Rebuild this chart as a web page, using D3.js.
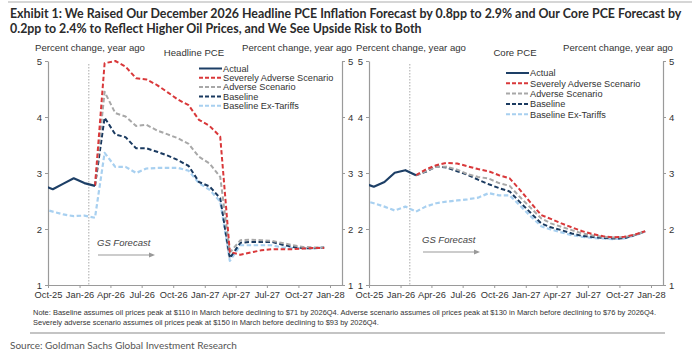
<!DOCTYPE html>
<html><head><meta charset="utf-8">
<script src="https://cdn.jsdelivr.net/npm/d3@7"></script>
<style>body{margin:0;background:#fff} svg{display:block}</style>
</head><body><svg id="c" width="700" height="357"></svg>
<script>
// ---------- DATA ----------
const months = ["2025-09","2025-10","2025-11","2025-12","2026-01","2026-02","2026-03","2026-04","2026-05","2026-06","2026-07","2026-08","2026-09","2026-10","2026-11","2026-12","2027-01","2027-02","2027-03","2027-04","2027-05","2027-06","2027-07","2027-08","2027-09","2027-10","2027-11","2027-12"];
const actualMonths = months.slice(0, 6);      // Sep-25 .. Feb-26
const forecastMonths = months.slice(5);       // Feb-26 .. Dec-27
const tickLabels = ["Oct-25","Jan-26","Apr-26","Jul-26","Oct-26","Jan-27","Apr-27","Jul-27","Oct-27","Jan-28"];
const yTicks = [1, 2, 3, 4, 5];
const seriesNames = ["Actual","Severely Adverse Scenario","Adverse Scenario","Baseline","Baseline Ex-Tariffs"];

// Headline PCE
const headActual = [2.78, 2.71, 2.81, 2.905, 2.82, 2.77];
const headSevere = [2.77, 4.96, 5.00, 4.90, 4.69, 4.67, 4.57, 4.44, 4.31, 4.21, 3.95, 3.84, 3.65, 1.59, 1.54, 1.58, 1.62, 1.64, 1.64, 1.64, 1.65, 1.66, 1.66];
const headAdverse = [2.77, 4.45, 4.07, 4.01, 3.84, 3.86, 3.76, 3.69, 3.62, 3.52, 3.29, 3.17, 2.93, 1.58, 1.80, 1.81, 1.80, 1.79, 1.75, 1.71, 1.68, 1.67, 1.67];
const headBase = [2.77, 3.99, 3.69, 3.64, 3.44, 3.44, 3.38, 3.31, 3.23, 3.125, 2.84, 2.76, 2.55, 1.48, 1.755, 1.77, 1.77, 1.77, 1.72, 1.68, 1.66, 1.655, 1.67];
const headExTariffs = [2.36, 2.31, 2.26, 2.23, 2.24, 2.20, 3.36, 3.11, 3.11, 3.00, 3.08, 3.09, 3.09, 3.09, 3.04, 2.82, 2.70, 2.49, 1.43, 1.71, 1.71, 1.71, 1.71, 1.67, 1.66, 1.655, 1.66, 1.67];

// Core PCE
const coreActual = [2.82, 2.755, 2.84, 3.005, 3.05, 2.96];
const coreSevere = [2.96, 3.06, 3.14, 3.18, 3.17, 3.12, 3.07, 3.03, 2.96, 2.905, 2.70, 2.47, 2.25, 2.18, 2.10, 2.03, 1.96, 1.91, 1.87, 1.85, 1.86, 1.90, 1.96];
const coreAdverse = [2.96, 3.03, 3.11, 3.11, 3.06, 2.98, 2.93, 2.90, 2.82, 2.77, 2.57, 2.38, 2.19, 2.10, 2.04, 1.98, 1.92, 1.885, 1.86, 1.85, 1.855, 1.895, 1.96];
const coreBase = [2.96, 3.02, 3.12, 3.10, 3.03, 2.97, 2.88, 2.80, 2.73, 2.67, 2.48, 2.29, 2.10, 2.03, 1.98, 1.92, 1.875, 1.855, 1.84, 1.83, 1.835, 1.89, 1.96];
const coreExTariffs = [2.51, 2.46, 2.40, 2.33, 2.40, 2.31, 2.40, 2.46, 2.49, 2.51, 2.53, 2.56, 2.64, 2.60, 2.60, 2.42, 2.23, 2.05, 1.99, 1.94, 1.89, 1.86, 1.84, 1.83, 1.82, 1.83, 1.885, 1.955];

const forecastStart = "2026-01-28";

// ---------- STYLE ----------
const colors = {actual:"#1d3f66", severe:"#d9383a", adverse:"#a8a8a8", base:"#1a3a60", ex:"#a8d0f0"};
const axisColor = "#9a9a9a", textColor = "#333";
const sans = "'Liberation Sans', Arial, sans-serif";
const narrow = "'Liberation Sans Narrow', 'Liberation Sans', Arial, sans-serif";

const svg = d3.select("#c");
const parseM = d3.timeParse("%Y-%m");
const mid = s => { const d = parseM(s); return new Date(d.getFullYear(), d.getMonth(), 15); };
const parseD = d3.timeParse("%Y-%m-%d");
const parseTick = d3.timeParse("%b-%y");

function fitText(sel, width) {
  const fs = parseFloat(sel.attr("font-size"));
  const w = sel.node().getComputedTextLength();
  sel.attr("font-size", fs * width / w);
  return fs * width / w;
}

// top rule
svg.append("line").attr("x1", 8).attr("x2", 692).attr("y1", 2).attr("y2", 2).attr("stroke", "#c8c8c8").attr("stroke-width", 1.5);

// title
const tFont = "Lato, 'Open Sans', sans-serif";
const t1 = svg.append("text").attr("x", 10).attr("y", 18).attr("font-family", tFont).attr("font-weight", "bold")
  .attr("font-size", 12).attr("fill", "#2b2b2b")
  .text("Exhibit 1: We Raised Our December 2026 Headline PCE Inflation Forecast by 0.8pp to 2.9% and Our Core PCE Forecast by");
const tfs = fitText(t1, 672);
svg.append("text").attr("x", 10).attr("y", 33).attr("font-family", tFont).attr("font-weight", "bold")
  .attr("font-size", tfs).attr("fill", "#2b2b2b")
  .text("0.2pp to 2.4% to Reflect Higher Oil Prices, and We See Upside Risk to Both");

function panel(cfg) {
  const x = d3.scaleTime().domain([new Date(2025, 9, 1), new Date(2028, 1, 5)]).range([cfg.x0, cfg.x1]);
  const y = d3.scaleLinear().domain([1, 5]).range([285, 61]);
  const g = svg.append("g");

  const clipId = "clip" + cfg.x0;
  svg.append("defs").append("clipPath").attr("id", clipId).append("rect")
    .attr("x", cfg.x0).attr("y", 40).attr("width", cfg.x1 - cfg.x0).attr("height", 250);

  // axes
  const styleAxis = a => {
    a.selectAll(".domain").attr("stroke", axisColor).attr("stroke-width", 1.2);
    a.selectAll(".tick line").attr("stroke", axisColor);
    a.selectAll("text").attr("fill", textColor).attr("font-family", sans).attr("font-size", 9.5);
  };
  const yl = g.append("g").attr("transform", `translate(${cfg.x0},0)`)
    .call(d3.axisLeft(y).tickValues(yTicks).tickFormat(d3.format("d")).tickSize(3).tickSizeOuter(0).tickPadding(3));
  styleAxis(yl);
  const yr = g.append("g").attr("transform", `translate(${cfg.x1},0)`)
    .call(d3.axisRight(y).tickValues(yTicks).tickFormat(d3.format("d")).tickSize(3).tickSizeOuter(0).tickPadding(3));
  styleAxis(yr);
  const xa = g.append("g").attr("transform", "translate(0,285)")
    .call(d3.axisBottom(x).tickValues(tickLabels.map(parseTick)).tickFormat(d3.timeFormat("%b-%y")).tickSize(3).tickSizeOuter(0).tickPadding(3));
  styleAxis(xa);
  xa.selectAll("text").attr("font-family", narrow).attr("font-size", 9.3);

  // header labels
  const hdr = (tx, cx, yy) => g.append("text").attr("x", cx).attr("y", yy).attr("text-anchor", "middle")
    .attr("font-family", narrow).attr("font-size", 9.6).attr("fill", textColor).text(tx);
  hdr("Percent change, year ago", cfg.x0 + 42, 51);
  hdr("Percent change, year ago", cfg.x1 - 45, 51);
  hdr(cfg.title, cfg.titleX, 56);

  // forecast divider
  g.append("line").attr("x1", x(parseD(forecastStart))).attr("x2", x(parseD(forecastStart)))
    .attr("y1", 64).attr("y2", 285).attr("stroke", "#aaa").attr("stroke-width", 1).attr("stroke-dasharray", "1.5,1.5");

  // GS Forecast annotation
  g.append("text").attr("x", cfg.gsX).attr("y", cfg.gsY).attr("font-family", sans).attr("font-style", "italic")
    .attr("font-size", 9.5).attr("fill", "#444").text("GS Forecast");
  g.append("line").attr("x1", cfg.gsX + 1).attr("x2", cfg.gsX + 54).attr("y1", cfg.gsY + 9).attr("y2", cfg.gsY + 9)
    .attr("stroke", "#999").attr("stroke-width", 1.2);
  g.append("path").attr("d", `M${cfg.gsX + 58},${cfg.gsY + 9} l-6,-2.5 l0,5 z`).attr("fill", "#999");

  // series
  const line = d3.line().x(d => x(d[0])).y(d => y(d[1]));
  const lines = g.append("g").attr("clip-path", `url(#${clipId})`);
  const dash = "4.5,2.5";
  const add = (ms, vals, color, dashed, w) => lines.append("path")
    .datum(ms.map((m, i) => [mid(m), vals[i]]))
    .attr("d", line).attr("fill", "none").attr("stroke", color).attr("stroke-width", w || 2)
    .attr("stroke-dasharray", dashed ? dash : null).attr("stroke-linejoin", "round");
  add(months, cfg.ex, colors.ex, true, 2.2);
  add(forecastMonths, cfg.base, colors.base, true);
  add(forecastMonths, cfg.adverse, colors.adverse, true);
  add(forecastMonths, cfg.severe, colors.severe, true);
  add(actualMonths, cfg.actual, colors.actual, false, 2.2);

  // legend
  const lg = g.append("g");
  const lc = [[colors.actual, false], [colors.severe, true], [colors.adverse, true], [colors.base, true], [colors.ex, true]];
  seriesNames.forEach((n, i) => {
    const yy = cfg.legY + i * cfg.legStep;
    lg.append("line").attr("x1", cfg.legX).attr("x2", cfg.legX + 23).attr("y1", yy).attr("y2", yy)
      .attr("stroke", lc[i][0]).attr("stroke-width", 2).attr("stroke-dasharray", lc[i][1] ? "4,2" : null);
    lg.append("text").attr("x", cfg.legX + 24).attr("y", yy + 3.3).attr("font-family", sans).attr("font-size", 9.2)
      .attr("fill", textColor).text(n);
  });
}

panel({x0: 48, x1: 342, title: "Headline PCE", titleX: 194, gsX: 97, gsY: 246, legX: 199, legY: 68.5, legStep: 9.3,
  actual: headActual, severe: headSevere, adverse: headAdverse, base: headBase, ex: headExTariffs});
panel({x0: 369, x1: 663, title: "Core PCE", titleX: 515, gsX: 422, gsY: 243, legX: 506, legY: 73, legStep: 10.3,
  actual: coreActual, severe: coreSevere, adverse: coreAdverse, base: coreBase, ex: coreExTariffs});

// note
const nf = "'Liberation Sans', Arial, sans-serif";
const n1 = svg.append("text").attr("x", 33).attr("y", 315).attr("font-family", nf).attr("font-size", 7).attr("fill", "#333")
  .text("Note: Baseline assumes oil prices peak at $110 in March before declining to $71 by 2026Q4. Adverse scenario assumes oil prices peak at $130 in March before declining to $76 by 2026Q4.");
const nfs = fitText(n1, 624);
svg.append("text").attr("x", 33).attr("y", 325).attr("font-family", nf).attr("font-size", nfs).attr("fill", "#333")
  .text("Severely adverse scenario assumes oil prices peak at $150 in March before declining to $93 by 2026Q4.");
svg.append("line").attr("x1", 30).attr("x2", 665).attr("y1", 333).attr("y2", 333).attr("stroke", "#b0b0b0").attr("stroke-width", 1.5);
const s1 = svg.append("text").attr("x", 10).attr("y", 349).attr("font-family", tFont).attr("font-size", 9).attr("fill", "#555")
  .text("Source: Goldman Sachs Global Investment Research");
fitText(s1, 227);
</script></body></html>
